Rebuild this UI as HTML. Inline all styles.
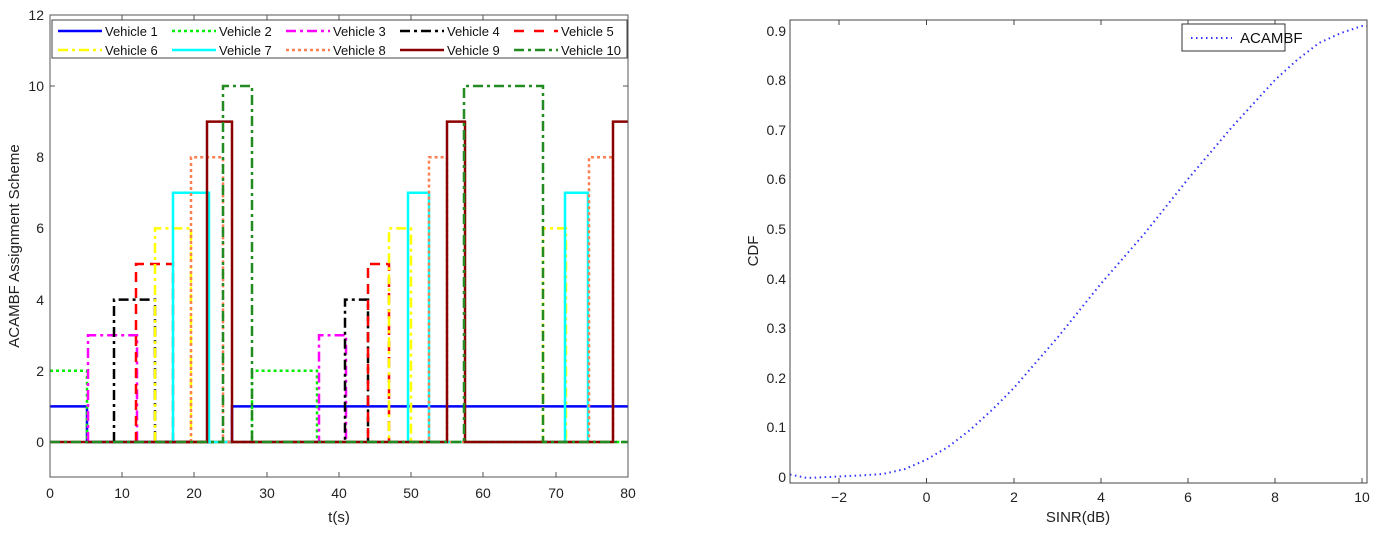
<!DOCTYPE html>
<html><head><meta charset="utf-8"><style>body{margin:0;background:#fff}svg{display:block;font-family:"Liberation Sans",sans-serif}</style></head>
<body>
<svg width="1382" height="534" viewBox="0 0 1382 534">
<rect width="1382" height="534" fill="#fff"/>
<g fill="none" stroke-width="2.5">
<polyline stroke="#0000ff" points="50,406.4 87,406.4 87,442 232,442 232,406.4 628,406.4"/>
<polyline stroke="#00ee00" stroke-dasharray="3,3" points="50,370.8 87,370.8 87,442 252,442 252,370.8 317,370.8 317,442 628,442"/>
<polyline stroke="#ff00ff" stroke-dasharray="10,4,3,4" points="88,442 88,335.2 137,335.2 137,442 319,442 319,335.2 346,335.2 346,442"/>
<polyline stroke="#000" stroke-dasharray="10,4,3,4" points="114,442 114,299.6 155,299.6 155,442 345,442 345,299.6 368,299.6 368,442"/>
<polyline stroke="#ff0000" stroke-dasharray="10,6" points="136,442 136,264 173,264 173,442 368,442 368,264 389,264 389,442"/>
<polyline stroke="#ffff00" stroke-dasharray="10,4,3,4" points="155,442 155,228.4 191,228.4 191,442 389,442 389,228.4 411,228.4 411,442 543,442 543,228.4 566,228.4 566,442"/>
<polyline stroke="#00ffff" points="173,442 173,192.8 209,192.8 209,442 408,442 408,192.8 429,192.8 429,442 565,442 565,192.8 588,192.8 588,442"/>
<polyline stroke="#ff7f50" stroke-dasharray="3,3" points="191,442 191,157.2 223,157.2 223,442 429,442 429,157.2 447,157.2 447,442 589,442 589,157.2 613,157.2 613,442"/>
<polyline stroke="#8b0000" points="50,442 207,442 207,121.6 232,121.6 232,442 447,442 447,121.6 465,121.6 465,442 613,442 613,121.6 628,121.6"/>
<polyline stroke="#228b22" stroke-dasharray="10,4,3,4" points="50,442 223,442 223,86 252,86 252,442 464,442 464,86 543,86 543,442 628,442"/>
</g>
<rect x="50" y="15" width="578" height="462" fill="none" stroke="#555" stroke-width="1"/>
<g stroke="#555" stroke-width="1">
<line x1="122" y1="477" x2="122" y2="472"/><line x1="194" y1="477" x2="194" y2="472"/><line x1="267" y1="477" x2="267" y2="472"/><line x1="339" y1="477" x2="339" y2="472"/><line x1="411" y1="477" x2="411" y2="472"/><line x1="483" y1="477" x2="483" y2="472"/><line x1="556" y1="477" x2="556" y2="472"/>
<line x1="122" y1="15" x2="122" y2="20"/><line x1="194" y1="15" x2="194" y2="20"/><line x1="267" y1="15" x2="267" y2="20"/><line x1="339" y1="15" x2="339" y2="20"/><line x1="411" y1="15" x2="411" y2="20"/><line x1="483" y1="15" x2="483" y2="20"/><line x1="556" y1="15" x2="556" y2="20"/>
<line x1="50" y1="86" x2="55" y2="86"/><line x1="628" y1="86" x2="623" y2="86"/>
</g>
<g font-size="14" fill="#222" text-anchor="end">
<text x="44" y="447">0</text><text x="44" y="376">2</text><text x="44" y="305">4</text><text x="44" y="233">6</text><text x="44" y="162">8</text><text x="44" y="91">10</text><text x="44" y="20">12</text>
</g>
<g font-size="14" fill="#222" text-anchor="middle">
<text x="50" y="498">0</text><text x="122" y="498">10</text><text x="194" y="498">20</text><text x="267" y="498">30</text><text x="339" y="498">40</text><text x="411" y="498">50</text><text x="483" y="498">60</text><text x="556" y="498">70</text><text x="628" y="498">80</text>
<text x="339" y="522" font-size="15">t(s)</text>
<text transform="translate(19,246) rotate(-90)" font-size="15">ACAMBF Assignment Scheme</text>
</g>
<rect x="52" y="20" width="575" height="38" fill="#fff" stroke="#444"/>
<g stroke-width="2.5" fill="none">
<line x1="58" y1="31" x2="102" y2="31" stroke="#0000ff"/>
<line x1="172" y1="31" x2="216" y2="31" stroke="#00ee00" stroke-dasharray="3,3"/>
<line x1="286" y1="31" x2="330" y2="31" stroke="#ff00ff" stroke-dasharray="10,4,3,4"/>
<line x1="400" y1="31" x2="444" y2="31" stroke="#000" stroke-dasharray="10,4,3,4"/>
<line x1="514" y1="31" x2="558" y2="31" stroke="#ff0000" stroke-dasharray="10,10"/>
<line x1="58" y1="50" x2="102" y2="50" stroke="#ffff00" stroke-dasharray="10,4,3,4"/>
<line x1="172" y1="50" x2="216" y2="50" stroke="#00ffff"/>
<line x1="286" y1="50" x2="330" y2="50" stroke="#ff7f50" stroke-dasharray="3,3"/>
<line x1="400" y1="50" x2="444" y2="50" stroke="#8b0000"/>
<line x1="514" y1="50" x2="558" y2="50" stroke="#228b22" stroke-dasharray="10,4,3,4"/>
</g>
<g font-size="13" fill="#111">
<text x="105" y="36">Vehicle 1</text><text x="219" y="36">Vehicle 2</text><text x="333" y="36">Vehicle 3</text><text x="447" y="36">Vehicle 4</text><text x="561" y="36">Vehicle 5</text>
<text x="105" y="55">Vehicle 6</text><text x="219" y="55">Vehicle 7</text><text x="333" y="55">Vehicle 8</text><text x="447" y="55">Vehicle 9</text><text x="561" y="55">Vehicle 10</text>
</g>
<polyline fill="none" stroke="#3333ff" stroke-width="2" stroke-dasharray="1.5,3.5" points="790,474.5 807,478 839,476.5 860,475.5 883,474 905,469 926.5,459.6 948,447 970,430 992,410 1014,387.8 1058,337 1101,283.6 1145,233 1188,179 1232,127 1275,80 1297,60 1319,43 1341,33 1362,26 1367,26"/>
<rect x="790" y="20" width="577" height="463" fill="none" stroke="#444" stroke-width="1"/>
<g stroke="#444" stroke-width="1">
<line x1="839" y1="483" x2="839" y2="478"/><line x1="926.5" y1="483" x2="926.5" y2="478"/><line x1="1014" y1="483" x2="1014" y2="478"/><line x1="1101" y1="483" x2="1101" y2="478"/><line x1="1188" y1="483" x2="1188" y2="478"/><line x1="1275" y1="483" x2="1275" y2="478"/><line x1="1362" y1="483" x2="1362" y2="478"/>
<line x1="839" y1="20" x2="839" y2="25"/><line x1="926.5" y1="20" x2="926.5" y2="25"/><line x1="1014" y1="20" x2="1014" y2="25"/><line x1="1101" y1="20" x2="1101" y2="25"/><line x1="1188" y1="20" x2="1188" y2="25"/><line x1="1275" y1="20" x2="1275" y2="25"/>
</g>
<g font-size="14" fill="#222" text-anchor="end">
<text x="786" y="482">0</text><text x="786" y="432">0.1</text><text x="786" y="383">0.2</text><text x="786" y="333">0.3</text><text x="786" y="284">0.4</text><text x="786" y="234">0.5</text><text x="786" y="184">0.6</text><text x="786" y="135">0.7</text><text x="786" y="85">0.8</text><text x="786" y="36">0.9</text>
</g>
<g font-size="14" fill="#222" text-anchor="middle">
<text x="839" y="502">−2</text><text x="926.5" y="502">0</text><text x="1014" y="502">2</text><text x="1101" y="502">4</text><text x="1188" y="502">6</text><text x="1275" y="502">8</text><text x="1362" y="502">10</text>
<text x="1078" y="522" font-size="15">SINR(dB)</text>
<text transform="translate(758,251) rotate(-90)" font-size="15">CDF</text>
</g>
<rect x="1182" y="24" width="103" height="27" fill="#fff" stroke="#333"/>
<line x1="1191" y1="38" x2="1232" y2="38" stroke="#3333ff" stroke-width="2" stroke-dasharray="1.5,3.5"/>
<text x="1240" y="43" font-size="15" fill="#111">ACAMBF</text>
</svg>
</body></html>
